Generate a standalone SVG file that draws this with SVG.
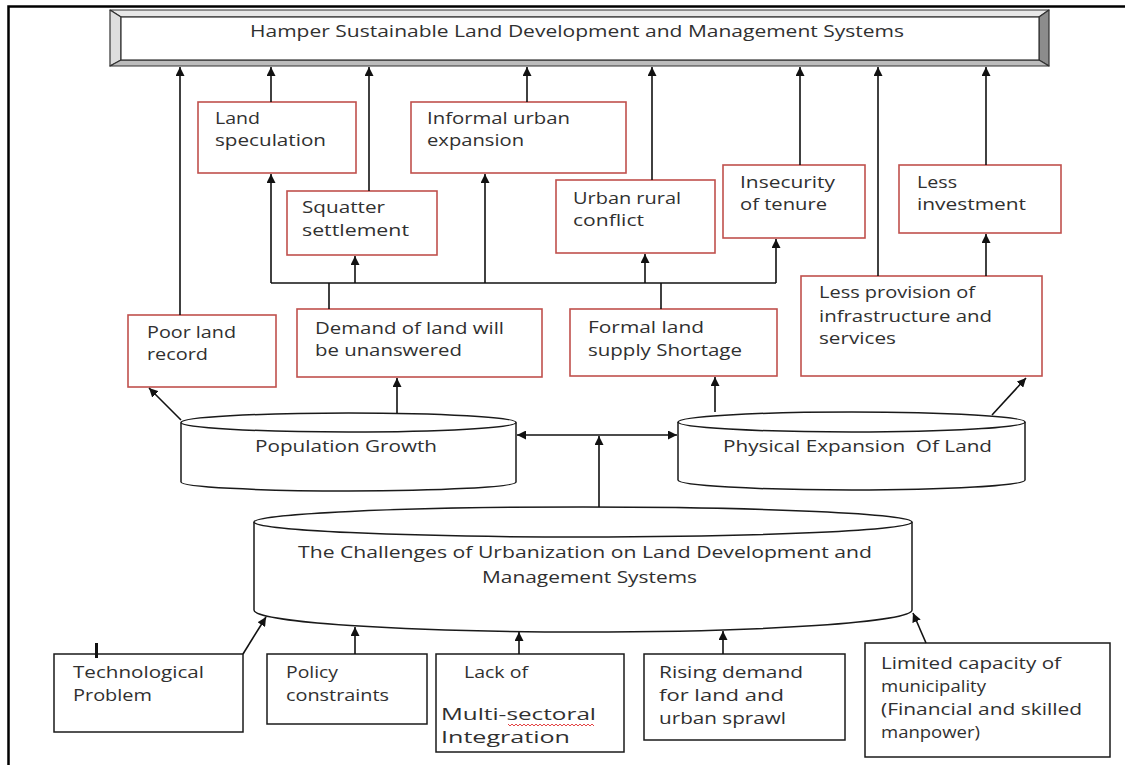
<svg xmlns="http://www.w3.org/2000/svg" width="1125" height="765" viewBox="0 0 1125 765">
<style>
text{font-family:"Open Sans","Noto Sans","DejaVu Sans",sans-serif;font-size:17px;fill:#303030}
.rb{fill:#fff;stroke:#c0504d;stroke-width:1.6}
.bb{fill:#fff;stroke:#1a1a1a;stroke-width:1.5}
.cyl{fill:#fff;stroke:#1a1a1a;stroke-width:1.5}
.ln{fill:none;stroke:#111;stroke-width:1.6}
.ar{marker-end:url(#ah)}
.bev{stroke:#333;stroke-width:1.2;stroke-linejoin:round}
</style>
<defs>
<marker id="ah" markerUnits="userSpaceOnUse" markerWidth="10" markerHeight="9" refX="9" refY="4.5" orient="auto-start-reverse">
<path d="M0,0 L9,4.5 L0,9 z" fill="#111"/>
</marker>
</defs>
<rect width="1125" height="765" fill="#fff"/>
<g id="frame">
<path d="M8.5,765 V6.5 H1125" fill="none" stroke="#000" stroke-width="2.5"/>
</g>
<g id="banner">
<polygon class="bev" points="110,10 1049,10 1039,17 121,17" fill="#e8e8e8"/>
<polygon class="bev" points="110,10 121,17 121,60 110,66" fill="#dedede"/>
<polygon class="bev" points="1049,10 1049,66 1039,60 1039,17" fill="#8c8c8c"/>
<polygon class="bev" points="110,66 1049,66 1039,60 121,60" fill="#bcbcbc"/>
<rect x="121" y="17" width="918" height="43" fill="#fff" stroke="#333" stroke-width="1.2"/>
<text x="250" y="37" font-size="16" textLength="654" lengthAdjust="spacingAndGlyphs">Hamper Sustainable Land Development and Management Systems</text>
</g>
<g id="land-speculation">
<rect class="rb" x="198" y="102" width="158" height="71"/>
<text x="215" y="124" textLength="45" lengthAdjust="spacingAndGlyphs">Land</text>
<text x="215" y="146" textLength="111" lengthAdjust="spacingAndGlyphs">speculation</text>
</g>
<g id="informal-urban-expansion">
<rect class="rb" x="411" y="102" width="215" height="71"/>
<text x="427" y="124" textLength="143" lengthAdjust="spacingAndGlyphs">Informal urban</text>
<text x="427" y="146" textLength="97" lengthAdjust="spacingAndGlyphs">expansion</text>
</g>
<g id="squatter-settlement">
<rect class="rb" x="287" y="191" width="150" height="64"/>
<text x="302" y="213" textLength="83" lengthAdjust="spacingAndGlyphs">Squatter</text>
<text x="302" y="236" textLength="107" lengthAdjust="spacingAndGlyphs">settlement</text>
</g>
<g id="urban-rural-conflict">
<rect class="rb" x="556" y="180" width="159" height="73"/>
<text x="573" y="204" textLength="108" lengthAdjust="spacingAndGlyphs">Urban rural</text>
<text x="573" y="226" textLength="71" lengthAdjust="spacingAndGlyphs">conflict</text>
</g>
<g id="insecurity-of-tenure">
<rect class="rb" x="723" y="165" width="142" height="73"/>
<text x="740" y="188" textLength="95" lengthAdjust="spacingAndGlyphs">Insecurity</text>
<text x="740" y="210" textLength="87" lengthAdjust="spacingAndGlyphs">of tenure</text>
</g>
<g id="less-investment">
<rect class="rb" x="899" y="165" width="162" height="68"/>
<text x="917" y="188" textLength="40" lengthAdjust="spacingAndGlyphs">Less</text>
<text x="917" y="210" textLength="109" lengthAdjust="spacingAndGlyphs">investment</text>
</g>
<g id="poor-land-record">
<rect class="rb" x="128" y="315" width="148" height="72"/>
<text x="147" y="338" textLength="89" lengthAdjust="spacingAndGlyphs">Poor land</text>
<text x="147" y="360" textLength="61" lengthAdjust="spacingAndGlyphs">record</text>
</g>
<g id="demand-unanswered">
<rect class="rb" x="297" y="309" width="245" height="68"/>
<text x="315" y="334" textLength="189" lengthAdjust="spacingAndGlyphs">Demand of land will</text>
<text x="315" y="356" textLength="147" lengthAdjust="spacingAndGlyphs">be unanswered</text>
</g>
<g id="formal-land-shortage">
<rect class="rb" x="570" y="309" width="207" height="67"/>
<text x="588" y="333" textLength="116" lengthAdjust="spacingAndGlyphs">Formal land</text>
<text x="588" y="356" textLength="154" lengthAdjust="spacingAndGlyphs">supply Shortage</text>
</g>
<g id="less-provision">
<rect class="rb" x="801" y="276" width="241" height="100"/>
<text x="819" y="298" textLength="156" lengthAdjust="spacingAndGlyphs">Less provision of</text>
<text x="819" y="322" textLength="173" lengthAdjust="spacingAndGlyphs">infrastructure and</text>
<text x="819" y="344" textLength="77" lengthAdjust="spacingAndGlyphs">services</text>
</g>
<g id="population-growth">
<path class="cyl" d="M181,422.5 V482 A167.5,9 0 0 0 516,482 V422.5"/>
<ellipse class="cyl" cx="348.5" cy="422.5" rx="167.5" ry="9.5"/>
<text x="255" y="452" textLength="182" lengthAdjust="spacingAndGlyphs">Population Growth</text>
</g>
<g id="physical-expansion">
<path class="cyl" d="M678,422 V480 A173.5,10 0 0 0 1025,480 V422"/>
<ellipse class="cyl" cx="851.5" cy="422" rx="173.5" ry="10"/>
<text x="723" y="452" textLength="269" lengthAdjust="spacingAndGlyphs" xml:space="preserve">Physical Expansion  Of Land</text>
</g>
<g id="challenges">
<path class="cyl" d="M254,522 V610 A329,22 0 0 0 912,610 V522"/>
<ellipse class="cyl" cx="583" cy="522" rx="329" ry="15"/>
<text x="298" y="558" textLength="574" lengthAdjust="spacingAndGlyphs">The Challenges of Urbanization on Land Development and</text>
<text x="482" y="583" textLength="215" lengthAdjust="spacingAndGlyphs">Management Systems</text>
</g>
<g id="technological-problem">
<rect class="bb" x="54" y="654" width="189" height="78"/>
<rect x="95" y="643" width="3" height="15" fill="#111"/>
<text x="73" y="678" textLength="131" lengthAdjust="spacingAndGlyphs">Technological</text>
<text x="73" y="701" textLength="79" lengthAdjust="spacingAndGlyphs">Problem</text>
</g>
<g id="policy-constraints">
<rect class="bb" x="267" y="654" width="160" height="70"/>
<text x="286" y="678" textLength="52" lengthAdjust="spacingAndGlyphs">Policy</text>
<text x="286" y="701" textLength="103" lengthAdjust="spacingAndGlyphs">constraints</text>
</g>
<g id="multi-sectoral">
<rect class="bb" x="436" y="654" width="188" height="98"/>
<text x="464" y="678" textLength="64" lengthAdjust="spacingAndGlyphs">Lack of</text>
<text x="441" y="720" textLength="155" lengthAdjust="spacingAndGlyphs">Multi-sectoral</text>
<text x="441" y="743" textLength="129" lengthAdjust="spacingAndGlyphs">Integration</text>
<path d="M508,724 l2,2 l2,-2 l2,2 l2,-2 l2,2 l2,-2 l2,2 l2,-2 l2,2 l2,-2 l2,2 l2,-2 l2,2 l2,-2 l2,2 l2,-2 l2,2 l2,-2 l2,2 l2,-2 l2,2 l2,-2 l2,2 l2,-2 l2,2 l2,-2 l2,2 l2,-2 l2,2 l2,-2 l2,2 l2,-2 l2,2 l2,-2 l2,2 l2,-2 l2,2 l2,-2 l2,2 l2,-2 l2,2 l2,-2 l2,2" fill="none" stroke="#e03030" stroke-width="0.9"/>
</g>
<g id="rising-demand">
<rect class="bb" x="644" y="654" width="201" height="86"/>
<text x="659" y="678" textLength="144" lengthAdjust="spacingAndGlyphs">Rising demand</text>
<text x="659" y="701" textLength="125" lengthAdjust="spacingAndGlyphs">for land and</text>
<text x="659" y="724" textLength="127" lengthAdjust="spacingAndGlyphs">urban sprawl</text>
</g>
<g id="limited-capacity">
<rect class="bb" x="865" y="643" width="245" height="114"/>
<text x="881" y="669" textLength="180" lengthAdjust="spacingAndGlyphs">Limited capacity of</text>
<text x="881" y="692" textLength="105" lengthAdjust="spacingAndGlyphs">municipality</text>
<text x="881" y="715" textLength="201" lengthAdjust="spacingAndGlyphs">(Financial and skilled</text>
<text x="881" y="738" textLength="99" lengthAdjust="spacingAndGlyphs">manpower)</text>
</g>
<g id="connectors" class="ln">
<path class="ar" d="M180,315 V67"/>
<path class="ar" d="M271,102 V67"/>
<path class="ar" d="M369,191 V67"/>
<path class="ar" d="M527,102 V67"/>
<path class="ar" d="M652,180 V67"/>
<path class="ar" d="M800,165 V67"/>
<path class="ar" d="M878,276 V67"/>
<path class="ar" d="M986,165 V67"/>
<path d="M271,283 H776"/>
<path class="ar" d="M271,283 V174"/>
<path class="ar" d="M355,283 V256"/>
<path class="ar" d="M485,283 V174"/>
<path class="ar" d="M645,283 V254"/>
<path class="ar" d="M776,283 V239"/>
<path d="M329,309 V283"/>
<path d="M661,309 V283"/>
<path class="ar" d="M986,276 V234"/>
<path class="ar" d="M181,420 L149,388"/>
<path class="ar" d="M397,413 V378"/>
<path class="ar" d="M715,412 V377"/>
<path class="ar" d="M992,415 L1026,378"/>
<path class="ar" d="M517,435 H677" marker-start="url(#ah)"/>
<path class="ar" d="M599,507 V436"/>
<path class="ar" d="M243,654 L266,617"/>
<path class="ar" d="M355,654 V627"/>
<path class="ar" d="M519,654 V632"/>
<path class="ar" d="M723,654 V631"/>
<path class="ar" d="M926,643 L913,613"/>
</g>
</svg>
